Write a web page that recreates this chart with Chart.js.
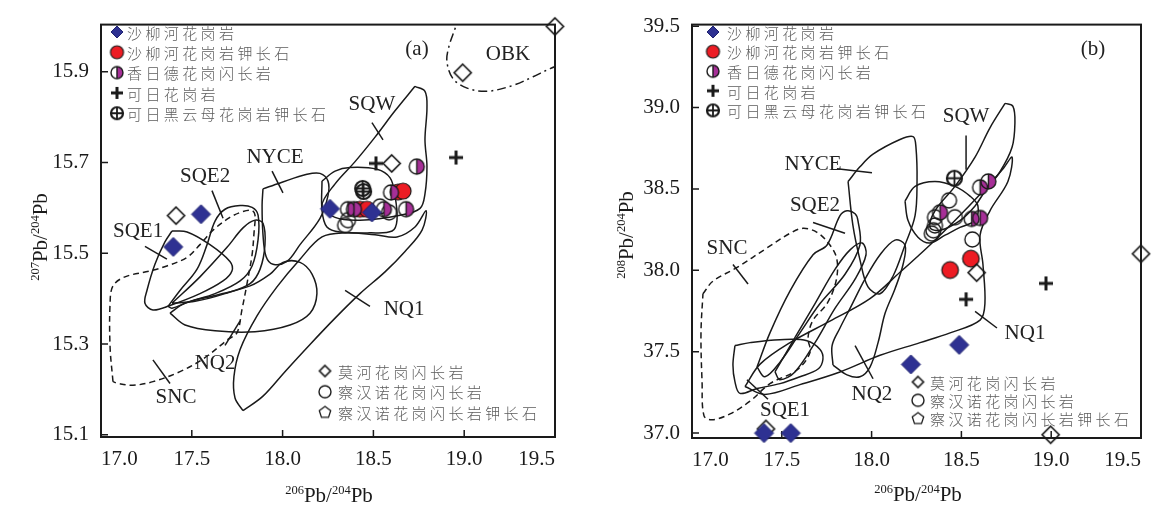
<!DOCTYPE html>
<html>
<head>
<meta charset="utf-8">
<script src="https://cdn.jsdelivr.net/npm/chart.js@4.4.0/dist/chart.umd.min.js"></script>
<style>
  body { margin: 0; background: #fff; width: 1160px; height: 507px; overflow: hidden; }
  .panel { position: absolute; top: 0; width: 580px; height: 507px; }
</style>
</head>
<body>
<div class="panel" style="left:0"><canvas id="chartA"></canvas></div>
<div class="panel" style="left:580px"><canvas id="chartB"></canvas></div>
<script>
// ---- axis ticks ----
const xTicks = [17.0, 17.5, 18.0, 18.5, 19.0, 19.5];
const yTicksA = [15.1, 15.3, 15.5, 15.7, 15.9];
const yTicksB = [37.0, 37.5, 38.0, 38.5, 39.0, 39.5];

// ---- legend names ----
const legendTop = ['沙柳河花岗岩', '沙柳河花岗岩钾长石', '香日德花岗闪长岩', '可日花岗岩', '可日黑云母花岗岩钾长石'];
const legendBottom = ['莫河花岗闪长岩', '察汉诺花岗闪长岩', '察汉诺花岗闪长岩钾长石'];

// ---- (a) 207Pb/204Pb vs 206Pb/204Pb samples ----
const shaliuheA = [[17.398, 15.514], [17.551, 15.586], [18.261, 15.598], [18.492, 15.590]];
const shaliuheKfsA = [[18.426, 15.597], [18.465, 15.597], [18.636, 15.635], [18.663, 15.637]];
const xiangrideA = [[18.360, 15.597], [18.393, 15.597], [18.558, 15.597], [18.680, 15.597], [18.597, 15.634], [18.739, 15.691]];
const keriA = [[18.514, 15.698], [18.955, 15.711]];
const keriKfsA = [[18.441, 15.643], [18.446, 15.636]];
const moheA = [[17.413, 15.583], [18.601, 15.698], [18.992, 15.898], [19.5, 16.0]];
const chahannuoA = [[18.344, 15.562], [18.360, 15.573], [18.536, 15.603], [18.586, 15.590]];

// ---- (b) 208Pb/204Pb vs 206Pb/204Pb samples ----
const shaliuheB = [[17.401, 37.0], [17.550, 37.0], [18.219, 37.422], [18.488, 37.542]];
const shaliuheKfsB = [[18.553, 38.072], [18.437, 38.002]];
const xiangrideB = [[18.604, 38.510], [18.650, 38.546], [18.381, 38.356], [18.557, 38.316], [18.604, 38.322]];
const keriB = [[18.526, 37.822], [18.971, 37.920]];
const keriKfsB = [[18.461, 38.566]];
const moheB = [[18.585, 37.986], [19.5, 38.102], [17.412, 37.026], [18.997, 36.99]];
const chahannuoB = [[18.431, 38.430], [18.353, 38.326], [18.464, 38.326], [18.344, 38.246], [18.335, 38.226], [18.353, 38.276], [18.561, 38.190]];

// ---- (a) reference fields ----
const sncA = [[17.066, 15.217], [17.050, 15.293], [17.050, 15.390], [17.066, 15.428], [17.132, 15.448], [17.270, 15.461], [17.363, 15.472], [17.474, 15.491], [17.545, 15.519], [17.617, 15.551], [17.710, 15.579], [17.782, 15.592], [17.832, 15.594], [17.848, 15.584], [17.843, 15.547], [17.832, 15.497], [17.804, 15.433], [17.776, 15.375], [17.749, 15.325], [17.699, 15.310], [17.562, 15.267], [17.435, 15.239], [17.286, 15.217], [17.176, 15.209], [17.094, 15.213]];
const sqe1A = [[17.391, 15.549], [17.474, 15.547], [17.600, 15.519], [17.710, 15.482], [17.721, 15.461], [17.672, 15.439], [17.545, 15.411], [17.380, 15.385], [17.286, 15.375], [17.242, 15.390], [17.253, 15.418], [17.297, 15.476], [17.352, 15.525]];
const sqe2A = [[17.369, 15.383], [17.435, 15.418], [17.529, 15.465], [17.584, 15.519], [17.628, 15.571], [17.683, 15.597], [17.766, 15.605], [17.832, 15.601], [17.865, 15.584], [17.865, 15.530], [17.832, 15.472], [17.766, 15.439], [17.628, 15.411], [17.490, 15.394], [17.391, 15.379]];
const lensA = [[17.391, 15.390], [17.545, 15.448], [17.694, 15.513], [17.782, 15.556], [17.848, 15.573], [17.892, 15.566], [17.903, 15.519], [17.876, 15.465], [17.821, 15.433], [17.683, 15.411], [17.518, 15.394]];
const nq2A = [[17.380, 15.368], [17.463, 15.390], [17.628, 15.407], [17.821, 15.428], [17.931, 15.454], [18.002, 15.480], [18.096, 15.480], [18.162, 15.454], [18.189, 15.411], [18.151, 15.368], [18.041, 15.342], [17.848, 15.327], [17.628, 15.329], [17.463, 15.342]];
const nyceA = [[17.892, 15.642], [17.986, 15.655], [18.134, 15.674], [18.206, 15.676], [18.250, 15.659], [18.250, 15.627], [18.206, 15.577], [18.096, 15.519], [18.024, 15.482], [17.947, 15.476], [17.909, 15.493], [17.892, 15.541], [17.887, 15.605]];
const clusterA = [[18.217, 15.659], [18.289, 15.681], [18.371, 15.689], [18.520, 15.685], [18.592, 15.666], [18.619, 15.627], [18.630, 15.573], [18.603, 15.549], [18.481, 15.545], [18.316, 15.547], [18.244, 15.558], [18.217, 15.594]];
const sqwA = [[18.729, 15.868], [18.784, 15.857], [18.795, 15.821], [18.784, 15.750], [18.795, 15.691], [18.784, 15.631], [18.757, 15.599], [18.647, 15.584], [18.426, 15.573], [18.289, 15.579], [18.217, 15.605], [18.289, 15.653], [18.399, 15.702], [18.509, 15.756], [18.619, 15.814]];
const nq1A = [[17.782, 15.153], [17.738, 15.181], [17.732, 15.228], [17.766, 15.288], [17.859, 15.362], [17.969, 15.426], [18.096, 15.487], [18.217, 15.536], [18.344, 15.545], [18.509, 15.541], [18.630, 15.536], [18.729, 15.558], [18.790, 15.594], [18.768, 15.551], [18.674, 15.504], [18.564, 15.459], [18.426, 15.411], [18.289, 15.357], [18.151, 15.299], [18.013, 15.239], [17.892, 15.185]];
const obkA = [[18.966, 16.025], [18.955, 16.002], [18.916, 15.956], [18.905, 15.922], [18.938, 15.885], [19.016, 15.864], [19.126, 15.857], [19.269, 15.870], [19.379, 15.889], [19.473, 15.907], [19.583, 15.924]];

// ---- (b) reference fields ----
const sncB = [[17.061, 37.856], [17.117, 37.934], [17.251, 38.018], [17.418, 38.138], [17.546, 38.228], [17.618, 38.258], [17.696, 38.234], [17.768, 38.156], [17.807, 38.066], [17.802, 37.934], [17.752, 37.796], [17.674, 37.694], [17.646, 37.586], [17.657, 37.496], [17.585, 37.388], [17.434, 37.304], [17.323, 37.196], [17.212, 37.118], [17.111, 37.082], [17.067, 37.106], [17.056, 37.316], [17.050, 37.616]];
const sqe1B = [[17.239, 37.538], [17.323, 37.556], [17.490, 37.574], [17.640, 37.568], [17.713, 37.514], [17.729, 37.454], [17.702, 37.394], [17.601, 37.346], [17.490, 37.304], [17.362, 37.274], [17.267, 37.244], [17.239, 37.316], [17.228, 37.418]];
const sqe2B = [[17.362, 37.406], [17.434, 37.616], [17.546, 37.874], [17.674, 38.096], [17.752, 38.156], [17.824, 38.336], [17.863, 38.366], [17.908, 38.348], [17.924, 38.306], [17.935, 38.156], [17.852, 37.976], [17.713, 37.796], [17.601, 37.616], [17.490, 37.436], [17.406, 37.346]];
const lensB = [[17.462, 37.376], [17.573, 37.586], [17.685, 37.796], [17.796, 38.006], [17.880, 38.126], [17.947, 38.168], [17.969, 38.096], [17.908, 37.946], [17.796, 37.766], [17.685, 37.556], [17.573, 37.376], [17.490, 37.328]];
const nq2B = [[17.785, 37.418], [17.780, 37.538], [17.824, 37.646], [17.880, 37.766], [17.963, 37.946], [18.047, 38.096], [18.130, 38.186], [18.186, 38.156], [18.175, 38.036], [18.130, 37.886], [18.075, 37.736], [18.036, 37.556], [17.991, 37.406], [17.935, 37.346], [17.863, 37.358]];
const nyceB = [[17.869, 38.546], [17.935, 38.636], [18.008, 38.714], [18.158, 38.804], [18.231, 38.822], [18.247, 38.756], [18.253, 38.546], [18.242, 38.336], [18.186, 38.156], [18.119, 37.964], [18.047, 37.856], [17.980, 37.898], [17.935, 38.066], [17.896, 38.276]];
const clusterB = [[18.186, 38.426], [18.242, 38.516], [18.353, 38.546], [18.464, 38.516], [18.548, 38.456], [18.592, 38.396], [18.576, 38.306], [18.492, 38.264], [18.409, 38.216], [18.325, 38.168], [18.258, 38.204], [18.203, 38.306]];
const sqwB = [[18.743, 39.026], [18.787, 39.008], [18.798, 38.906], [18.782, 38.756], [18.715, 38.606], [18.631, 38.486], [18.576, 38.396], [18.492, 38.306], [18.381, 38.246], [18.325, 38.264], [18.353, 38.366], [18.464, 38.516], [18.576, 38.696], [18.659, 38.876]];
const nq1B = [[17.295, 37.286], [17.379, 37.424], [17.546, 37.556], [17.768, 37.688], [17.991, 37.826], [18.158, 37.988], [18.325, 38.156], [18.464, 38.306], [18.620, 38.486], [18.732, 38.624], [18.782, 38.696], [18.759, 38.546], [18.659, 38.366], [18.604, 38.216], [18.620, 38.036], [18.631, 37.796], [18.604, 37.694], [18.437, 37.616], [18.270, 37.556], [18.047, 37.478], [17.824, 37.376], [17.601, 37.298], [17.406, 37.238]];

// ---- field names and leader lines ----
const labelsA = [['SQE1', 17.204, 15.549], ['SQE2', 17.573, 15.670], ['NYCE', 17.958, 15.711], ['SQW', 18.492, 15.827], ['OBK', 19.241, 15.939], ['NQ1', 18.669, 15.377], ['NQ2', 17.628, 15.256], ['SNC', 17.413, 15.181], ['(a)', 18.740, 15.950]];
const leadersA = [[[17.242, 15.515], [17.363, 15.487]], [[17.611, 15.638], [17.672, 15.577]], [[17.942, 15.681], [18.002, 15.633]], [[18.492, 15.788], [18.553, 15.750]], [[18.344, 15.418], [18.481, 15.383]], [[17.683, 15.297], [17.766, 15.351]], [[17.286, 15.265], [17.380, 15.213]]];
const labelsB = [['SQW', 18.526, 38.948], ['NYCE', 17.674, 38.648], ['SQE2', 17.685, 38.396], ['SNC', 17.195, 38.132], ['NQ1', 18.854, 37.610], ['NQ2', 18.002, 37.238], ['SQE1', 17.518, 37.136], ['(b)', 19.233, 39.356]];
const leadersB = [[[18.526, 38.828], [18.526, 38.618]], [[17.807, 38.624], [18.002, 38.600]], [[17.674, 38.294], [17.852, 38.228]], [[17.228, 38.036], [17.312, 37.916]], [[18.576, 37.748], [18.698, 37.646]], [[17.908, 37.538], [18.008, 37.334]], [[17.306, 37.328], [17.423, 37.208]]];

const INK = '#1a1a1a';
const MAGENTA = '#a62f97';
const SERIF = '"Liberation Serif", "Times New Roman", serif';

// marker drawn once into a small canvas, used as pointStyle
function marker(kind, r) {
    const s = Math.ceil(2 * r + 6);
    const c = document.createElement('canvas');
    c.width = s; c.height = s;
    const g = c.getContext('2d');
    const m = s / 2;
    g.strokeStyle = INK;
    g.lineWidth = 1.4;
    const circle = () => { g.beginPath(); g.arc(m, m, r, 0, Math.PI * 2); };
    switch (kind) {
        case 'blueDiamond':
            g.beginPath();
            g.moveTo(m, m - r); g.lineTo(m + r, m); g.lineTo(m, m + r); g.lineTo(m - r, m); g.closePath();
            g.fillStyle = '#2e3192'; g.fill();
            g.strokeStyle = '#1f2270'; g.lineWidth = 1; g.stroke();
            break;
        case 'openDiamond':
            g.beginPath();
            g.moveTo(m, m - r); g.lineTo(m + r, m); g.lineTo(m, m + r); g.lineTo(m - r, m); g.closePath();
            g.lineWidth = 1.7; g.stroke();
            break;
        case 'red':
            circle(); g.fillStyle = '#ed1c24'; g.fill(); g.lineWidth = 1.2; g.stroke();
            break;
        case 'half':
            g.beginPath(); g.moveTo(m, m - r); g.arc(m, m, r, -Math.PI / 2, Math.PI / 2); g.closePath();
            g.fillStyle = MAGENTA; g.fill();
            circle(); g.stroke();
            g.beginPath(); g.moveTo(m, m - r); g.lineTo(m, m + r); g.stroke();
            break;
        case 'plus':
            g.lineWidth = 3;
            g.beginPath(); g.moveTo(m - r, m); g.lineTo(m + r, m); g.moveTo(m, m - r); g.lineTo(m, m + r); g.stroke();
            break;
        case 'crossed':
            g.lineWidth = 2.2;
            circle(); g.stroke();
            g.lineWidth = 1.8;
            g.beginPath(); g.moveTo(m - r, m); g.lineTo(m + r, m); g.moveTo(m, m - r); g.lineTo(m, m + r); g.stroke();
            break;
        case 'open':
            circle(); g.stroke();
            break;
        case 'pentagon':
            g.beginPath();
            for (let i = 0; i < 5; i++) {
                const t = -Math.PI / 2 + i * 2 * Math.PI / 5;
                g.lineTo(m + r * Math.cos(t), m + r * Math.sin(t));
            }
            g.closePath(); g.lineWidth = 1.3; g.stroke();
            break;
    }
    return c;
}

const pts = arr => arr.map(([x, y]) => ({ x, y }));
const closed = arr => pts(arr.concat([arr[0]]));

function field(data, dash) {
    return {
        data: closed(data), showLine: true, pointRadius: 0, borderColor: INK, borderWidth: 1.5,
        borderDash: dash || [], tension: 0.35, fill: false, order: 10
    };
}

function samples(data, kind, r, order) {
    return {
        data: pts(data), pointStyle: marker(kind, r), pointRadius: r, showLine: false,
        clip: false, order: order
    };
}

function leaders(list) {
    return list.map(seg => ({
        data: pts(seg), showLine: true, pointRadius: 0, borderColor: INK, borderWidth: 1.5, order: 9
    }));
}

// 206Pb/204Pb style title with small raised mass numbers
function isoTitle(ctx, cx, cy, a, b, rotate) {
    const big = '21px ' + SERIF, small = '12.5px ' + SERIF;
    const parts = [[a, small, -8], ['Pb/', big, 0], [b, small, -8], ['Pb', big, 0]];
    ctx.save();
    ctx.translate(cx, cy);
    if (rotate) ctx.rotate(-Math.PI / 2);
    ctx.fillStyle = INK;
    ctx.textBaseline = 'alphabetic';
    let w = 0;
    parts.forEach(p => { ctx.font = p[1]; w += ctx.measureText(p[0]).width; });
    let x0 = -w / 2;
    parts.forEach(p => { ctx.font = p[1]; ctx.fillText(p[0], x0, p[2]); x0 += ctx.measureText(p[0]).width; });
    ctx.restore();
}

function drawLegend(ctx, names, marks, mx, tx, y0, dy) {
    ctx.save();
    ctx.font = '300 15px "Noto Sans CJK SC"';
    ctx.letterSpacing = '3.4px';
    ctx.fillStyle = '#5c5c5c';
    ctx.textBaseline = 'middle';
    names.forEach((name, i) => {
        const y = y0 + i * dy;
        const mk = marks[i];
        ctx.drawImage(mk, mx - mk.width / 2, y - mk.height / 2);
        ctx.fillText(name, tx, y + 1);
    });
    ctx.restore();
}

const decor = {
    id: 'decor',
    beforeDatasetsDraw(chart, args, o) {
        const { ctx, chartArea: a, scales: { x, y } } = chart;
        ctx.save();
        ctx.strokeStyle = INK;
        ctx.lineWidth = 1.5;
        ctx.beginPath();
        xTicks.forEach(v => { const px = x.getPixelForValue(v); ctx.moveTo(px, a.bottom); ctx.lineTo(px, a.bottom - 7); });
        o.yTicks.forEach(v => { const py = y.getPixelForValue(v); ctx.moveTo(a.left, py); ctx.lineTo(a.left + 7, py); });
        ctx.stroke();
        ctx.lineWidth = 2;
        ctx.strokeRect(a.left, a.top, a.right - a.left, a.bottom - a.top);
        ctx.restore();
    },
    afterDatasetsDraw(chart, args, o) {
        const { ctx, scales: { x, y } } = chart;
        ctx.save();
        ctx.font = '21px ' + SERIF;
        ctx.fillStyle = '#222';
        ctx.textAlign = 'center';
        ctx.textBaseline = 'middle';
        o.labels.forEach(([t, vx, vy]) => ctx.fillText(t, x.getPixelForValue(vx), y.getPixelForValue(vy)));
        ctx.restore();
        const top = o.legendTop, bot = o.legendBottom;
        drawLegend(ctx, legendTop, top.marks, top.mx, top.tx, top.y0, top.dy);
        drawLegend(ctx, legendBottom, bot.marks, bot.mx, bot.tx, bot.y0, bot.dy);
        isoTitle(ctx, o.xTitle[0], o.xTitle[1], '206', '204', false);
        isoTitle(ctx, o.yTitle[0], o.yTitle[1], o.yIso, '204', true);
    }
};

const topMarks = [marker('blueDiamond', 6), marker('red', 6.5), marker('half', 6), marker('plus', 6), marker('crossed', 6)];
const bottomMarks = [marker('openDiamond', 5.5), marker('open', 6), marker('pentagon', 6)];

function makeChart(id, cfg) {
    return new Chart(document.getElementById(id), {
        type: 'scatter',
        data: { datasets: cfg.datasets },
        options: {
            responsive: true,
            maintainAspectRatio: false,
            animation: false,
            events: [],
            layout: { padding: { top: 15, right: cfg.padRight, left: 0, bottom: 0 } },
            plugins: {
                legend: { display: false },
                tooltip: { enabled: false },
                decor: cfg.decor
            },
            scales: {
                x: {
                    min: 17.0, max: 19.5,
                    afterBuildTicks: axis => { axis.ticks = xTicks.map(v => ({ value: v })); },
                    afterFit: scale => { scale.height = cfg.xHeight; },
                    grid: { display: false, drawTicks: false },
                    border: { display: false },
                    ticks: { align: 'inner', padding: 10, color: INK, font: { family: SERIF, size: 21 }, callback: v => v.toFixed(1) }
                },
                y: {
                    min: cfg.yMin, max: cfg.yMax,
                    afterBuildTicks: axis => { axis.ticks = cfg.yTicks.map(v => ({ value: v })); },
                    afterFit: scale => { scale.width = cfg.yWidth; },
                    grid: { display: false, drawTicks: false },
                    border: { display: false },
                    ticks: { padding: 12, color: INK, font: { family: SERIF, size: 21 }, callback: v => v.toFixed(1) }
                }
            }
        },
        plugins: [decor]
    });
}

makeChart('chartA', {
    yMin: 15.095, yMax: 16.004, yTicks: yTicksA, yWidth: 101, xHeight: 70, padRight: 25,
    datasets: [
        samples(shaliuheA, 'blueDiamond', 9.5, 0),
        samples(moheA, 'openDiamond', 8.5, 1),
        samples(keriA, 'plus', 7, 1),
        samples(shaliuheKfsA, 'red', 8, 3),
        samples(xiangrideA, 'half', 7.5, 2),
        samples(keriKfsA, 'crossed', 7.5, 2),
        samples(chahannuoA, 'open', 7.5, 4),
        ...leaders(leadersA),
        field(sncA, [6, 4]), field(sqe1A), field(sqe2A), field(lensA), field(nq2A),
        field(nyceA), field(clusterA), field(sqwA), field(nq1A),
        { data: pts(obkA), showLine: true, pointRadius: 0, borderColor: INK, borderWidth: 1.5, borderDash: [9, 4, 2, 4], tension: 0.35, order: 10 }
    ],
    decor: {
        yTicks: yTicksA, labels: labelsA, yIso: '207',
        xTitle: [329, 502], yTitle: [47, 237],
        legendTop: { marks: topMarks, mx: 117, tx: 127, y0: 32, dy: 20.3 },
        legendBottom: { marks: bottomMarks, mx: 325, tx: 338, y0: 371, dy: 20.7 }
    }
});

makeChart('chartB', {
    yMin: 36.97, yMax: 39.51, yTicks: yTicksB, yWidth: 112, xHeight: 69, padRight: 19,
    datasets: [
        samples(shaliuheB, 'blueDiamond', 9.5, 0),
        samples(moheB, 'openDiamond', 8.5, 1),
        samples(keriB, 'plus', 7, 1),
        samples(shaliuheKfsB, 'red', 8.3, 3),
        samples(xiangrideB, 'half', 7.5, 2),
        samples(keriKfsB, 'crossed', 7.5, 2),
        samples(chahannuoB, 'open', 7.5, 4),
        ...leaders(leadersB),
        field(sncB, [6, 4]), field(sqe1B), field(sqe2B), field(lensB), field(nq2B),
        field(nyceB), field(clusterB), field(sqwB), field(nq1B)
    ],
    decor: {
        yTicks: yTicksB, labels: labelsB, yIso: '208',
        xTitle: [338, 501], yTitle: [53, 235],
        legendTop: { marks: topMarks, mx: 133, tx: 147, y0: 32, dy: 19.6 },
        legendBottom: { marks: bottomMarks, mx: 338, tx: 350, y0: 382, dy: 18.3 }
    }
});
</script>
</body>
</html>
